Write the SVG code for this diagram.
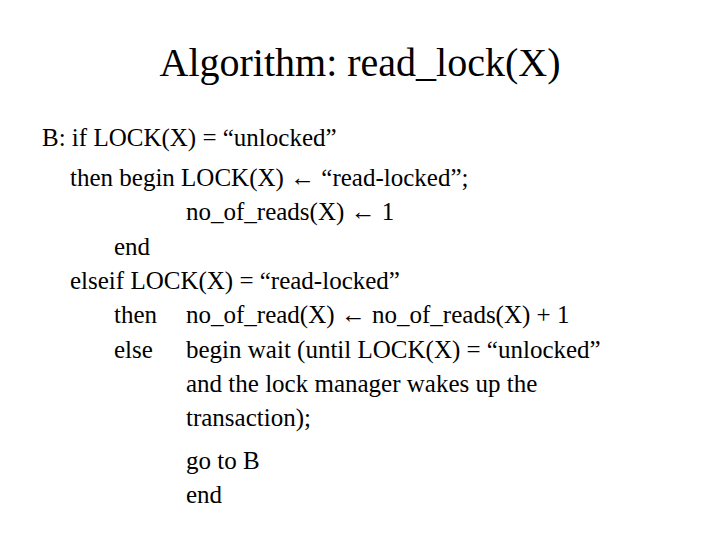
<svg xmlns="http://www.w3.org/2000/svg" width="720" height="540" viewBox="0 0 720 540">
<style>
.t{font-size:40px}
.b{font-size:25px}
</style>
<rect width="720" height="540" fill="#fff"/>
<g font-family="'Liberation Serif', 'Times New Roman', Times, serif" fill="#000">
<text class="t" x="360" y="76" text-anchor="middle">Algorithm: read_lock(X)</text>
<g id="body">
<text class="b" x="42" y="146">B: if LOCK(X) = “unlocked”</text>
<text class="b" x="70" y="186">then begin LOCK(X) ← “read-locked”;</text>
<text class="b" x="186" y="220">no_of_reads(X) ← 1</text>
<text class="b" x="114" y="255">end</text>
<text class="b" x="70" y="289">elseif LOCK(X) = “read-locked”</text>
<text class="b" x="114" y="323">then</text>
<text class="b" x="186" y="323">no_of_read(X) ← no_of_reads(X) + 1</text>
<text class="b" x="114" y="358">else</text>
<text class="b" x="186" y="358">begin wait (until LOCK(X) = “unlocked”</text>
<text class="b" x="186" y="392">and the lock manager wakes up the</text>
<text class="b" x="186" y="426">transaction);</text>
<text class="b" x="186" y="469">go to B</text>
<text class="b" x="186" y="503">end</text>
</g>
</g>
</svg>
